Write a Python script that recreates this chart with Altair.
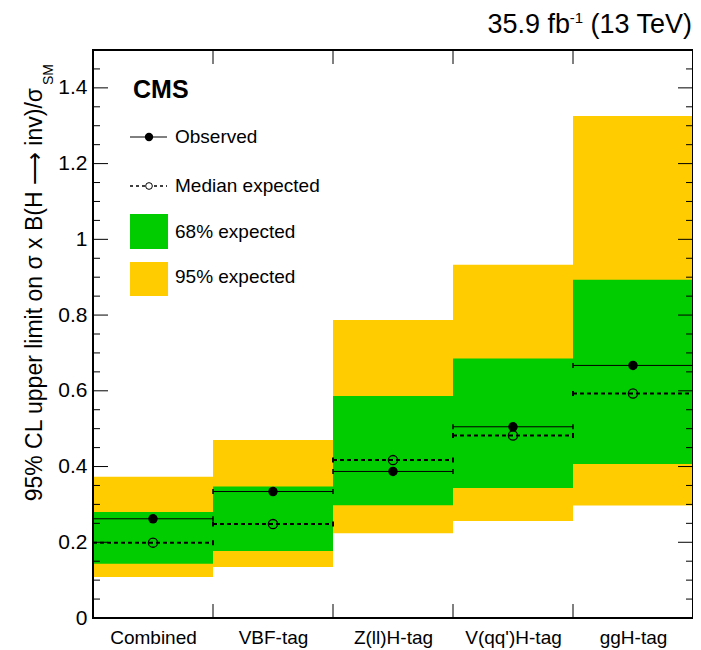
import json
import altair as alt
import pandas as pd

# ---- data ----
cats = ["Combined", "VBF-tag", "Z(ll)H-tag", "V(qq')H-tag", "ggH-tag"]
observed = [0.262, 0.334, 0.387, 0.505, 0.667]
expected = [0.199, 0.248, 0.417, 0.482, 0.593]
lo68 = [0.143, 0.177, 0.298, 0.343, 0.407]
hi68 = [0.280, 0.347, 0.586, 0.685, 0.893]
lo95 = [0.108, 0.135, 0.224, 0.256, 0.297]
hi95 = [0.373, 0.470, 0.787, 0.933, 1.326]
y_major = [0, 0.2, 0.4, 0.6, 0.8, 1.0, 1.2, 1.4]
y_minor = [0.05, 0.1, 0.15, 0.25, 0.3, 0.35, 0.45, 0.5, 0.55, 0.65, 0.7, 0.75,
           0.85, 0.9, 0.95, 1.05, 1.1, 1.15, 1.25, 1.3, 1.35, 1.45]
x_bounds = [1, 2, 3, 4]
x_centers = [0.5, 1.5, 2.5, 3.5, 4.5]

W, H = 600, 568
FONT = "Liberation Sans"

n = len(cats)
df = pd.DataFrame({
    "cat": cats,
    "x0": list(range(n)),
    "x1": [i + 1 for i in range(n)],
    "xm": x_centers,
    "observed": observed,
    "expected": expected,
    "lo68": lo68, "hi68": hi68,
    "lo95": lo95, "hi95": hi95,
})
caps = pd.DataFrame({
    "xe": list(range(n)) + [i + 1 for i in range(n)],
    "obs": observed + observed,
    "exp": expected + expected,
})

xscale = alt.Scale(domain=[0, 5], nice=False, zero=False)
yscale = alt.Scale(domain=[0, 1.5], nice=False, zero=False)
label_expr = json.dumps(cats) + "[floor(datum.value)]"
xaxis = alt.Axis(values=x_centers, labelExpr=label_expr, ticks=False, domain=False,
                 grid=False, title=None, labelFont=FONT, labelFontSize=19,
                 labelColor="black", labelPadding=10, labelOverlap=False,
                 labelFlush=False, labelBound=False)
yaxis = alt.Axis(values=y_major, format="~g", ticks=False, domain=False, grid=False,
                 title=None, labelFont=FONT, labelFontSize=21, labelColor="black",
                 labelPadding=6, labelOverlap=False, labelFlush=False, labelBound=False)


def X(f):
    return alt.X(f, type="quantitative", scale=xscale, axis=xaxis)


def Y(f):
    return alt.Y(f, type="quantitative", scale=yscale, axis=yaxis)


base = alt.Chart(df)
band95 = base.mark_rect(color="#FFCC00").encode(x=X("x0"), x2="x1", y=Y("lo95"), y2="hi95")
band68 = base.mark_rect(color="#00CC00").encode(x=X("x0"), x2="x1", y=Y("lo68"), y2="hi68")
exp_rule = base.mark_rule(color="black", strokeWidth=2, strokeDash=[4, 3]).encode(
    x=X("x0"), x2="x1", y=Y("expected"))
obs_rule = base.mark_rule(color="black", strokeWidth=1).encode(
    x=X("x0"), x2="x1", y=Y("observed"))
cap_obs = alt.Chart(caps).mark_tick(orient="vertical", color="black", size=5, thickness=1.5,
                                    opacity=1).encode(x=X("xe"), y=Y("obs"))
cap_exp = alt.Chart(caps).mark_tick(orient="vertical", color="black", size=5, thickness=2,
                                    opacity=1).encode(x=X("xe"), y=Y("exp"))
obs_pts = base.mark_circle(size=90, color="black", opacity=1).encode(x=X("xm"), y=Y("observed"))
exp_pts = base.mark_point(size=85, shape="circle", filled=False, color="black",
                          strokeWidth=1.3, opacity=1).encode(x=X("xm"), y=Y("expected"))

maj = alt.Chart(pd.DataFrame({"v": y_major}))
mnr = alt.Chart(pd.DataFrame({"v": y_minor}))
bnd = alt.Chart(pd.DataFrame({"b": x_bounds}))
tick_layers = [
    maj.mark_rule(color="black", strokeWidth=1).encode(y=Y("v"), x=alt.value(0), x2=alt.value(15)),
    mnr.mark_rule(color="black", strokeWidth=1).encode(y=Y("v"), x=alt.value(0), x2=alt.value(7)),
    maj.mark_rule(color="black", strokeWidth=1).encode(y=Y("v"), x=alt.value(W - 15), x2=alt.value(W)),
    mnr.mark_rule(color="black", strokeWidth=1).encode(y=Y("v"), x=alt.value(W - 7), x2=alt.value(W)),
    bnd.mark_rule(color="black", strokeWidth=1).encode(x=X("b"), y=alt.value(0), y2=alt.value(14)),
    bnd.mark_rule(color="black", strokeWidth=1).encode(x=X("b"), y=alt.value(H - 14), y2=alt.value(H)),
]

one = alt.Chart(pd.DataFrame({"a": [0]}))
frame = one.mark_rect(fillOpacity=0, stroke="black", strokeWidth=2).encode(
    x=alt.value(0), x2=alt.value(W), y=alt.value(0), y2=alt.value(H))


def txt(t, x, y, size, align="left", baseline="middle", weight="normal", angle=0):
    return alt.Chart(pd.DataFrame({"t": [t]})).mark_text(
        font=FONT, fontSize=size, align=align, baseline=baseline, fontWeight=weight,
        angle=angle, color="black").encode(x=alt.value(x), y=alt.value(y), text="t:N")


# legend
legend = [
    one.mark_rule(color="black", strokeWidth=1).encode(x=alt.value(37), x2=alt.value(74), y=alt.value(87)),
    one.mark_circle(size=70, color="black", opacity=1).encode(x=alt.value(56), y=alt.value(87)),
    one.mark_rule(color="black", strokeWidth=1.5, strokeDash=[3, 3]).encode(
        x=alt.value(37), x2=alt.value(74), y=alt.value(136)),
    one.mark_point(size=45, shape="circle", filled=False, color="black", strokeWidth=1,
                   fill="white", opacity=1).encode(x=alt.value(56), y=alt.value(136)),
    one.mark_rect(color="#00CC00").encode(x=alt.value(37), x2=alt.value(75), y=alt.value(164), y2=alt.value(199)),
    one.mark_rect(color="#FFCC00").encode(x=alt.value(37), x2=alt.value(75), y=alt.value(212), y2=alt.value(246)),
    txt("CMS", 40, 40, 25, weight="bold"),
    txt("Observed", 82, 87, 19),
    txt("Median expected", 82, 136, 19),
    txt("68% expected", 82, 182, 19),
    txt("95% expected", 82, 227, 19),
]

labels = [
    txt("(13 TeV)", 599, -17, 27, align="right", baseline="alphabetic"),
    txt("-1", 490, -27, 15, align="right", baseline="alphabetic"),
    txt("35.9 fb", 477, -17, 27, align="right", baseline="alphabetic"),
    txt("95% CL upper limit on σ x B(H \u27f6 inv)/σ", -51, 38, 23,
        align="right", baseline="alphabetic", angle=270),
    txt("SM", -40, 35, 14, align="left", baseline="alphabetic", angle=270),
]

chart = alt.layer(
    band95, band68, exp_rule, obs_rule, cap_obs, cap_exp, obs_pts, exp_pts,
    *tick_layers, frame, *legend, *labels
).properties(
    width=W, height=H,
    autosize=alt.AutoSizeParams(type="none"),
    padding={"left": 85, "top": 42, "right": 0, "bottom": 32},
).configure_view(stroke=None).configure(background="white")

chart.save("out.html", embed_options={"renderer": "svg", "actions": False})
